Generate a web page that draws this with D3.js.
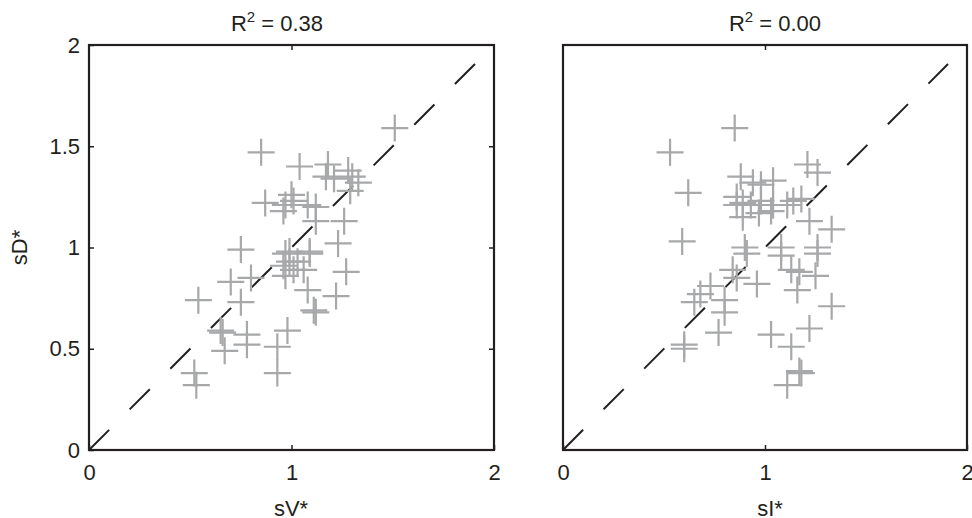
<!DOCTYPE html>
<html>
<head>
<meta charset="utf-8">
<script src="https://cdn.jsdelivr.net/npm/d3@7"></script>
<style>
  body { margin: 0; background: #fff; }
  text { font-family: "Liberation Sans", Arial, sans-serif; fill: #231f20; }
</style>
</head>
<body>
<div id="chart"></div>
<script>
// left panel: sD* against sV*
var sV = [1.51, 0.85, 1.04, 1.18, 1.17, 1.21, 1.28, 1.33, 1.30, 1.29, 0.87, 1.00, 0.97, 0.96, 1.01,
  1.12, 1.08, 1.26, 1.12, 1.23, 0.75, 0.99, 1.09, 0.97, 1.09, 0.99, 1.01, 0.97, 1.06, 1.27,
  0.80, 0.70, 1.08, 1.22, 0.54, 0.75, 1.11, 1.12, 0.65, 0.66, 0.78, 0.98, 0.67, 0.78, 0.93,
  0.52, 0.53, 0.93, 0.96, 1.03];
var sD_V = [1.59, 1.47, 1.40, 1.41, 1.35, 1.34, 1.38, 1.32, 1.35, 1.28, 1.22, 1.26, 1.21, 1.18, 1.23,
  1.20, 1.21, 1.13, 1.13, 1.02, 0.99, 0.98, 0.98, 0.97, 0.97, 0.93, 0.89, 0.86, 0.89, 0.88,
  0.85, 0.83, 0.79, 0.76, 0.74, 0.73, 0.69, 0.68, 0.59, 0.58, 0.57, 0.59, 0.49, 0.52, 0.51,
  0.38, 0.32, 0.38, 0.91, 0.93];

// right panel: sD* against sI*
var sI = [0.85, 0.53, 0.62, 1.21, 1.26, 0.88, 0.94, 0.98, 1.04, 0.86, 0.89, 0.86, 0.93, 0.98, 1.04,
  1.11, 1.14, 1.18, 0.89, 0.97, 1.03, 1.22, 1.33, 0.59, 0.90, 1.08, 1.26, 0.91, 1.08, 1.26,
  0.84, 0.86, 0.96, 1.13, 1.17, 1.25, 1.16, 1.33, 0.73, 0.68, 0.65, 0.80, 0.80, 0.77, 0.60,
  0.60, 1.03, 1.22, 1.13, 1.18, 1.11, 1.17];
var sD_I = [1.59, 1.47, 1.27, 1.41, 1.37, 1.35, 1.32, 1.31, 1.33, 1.25, 1.22, 1.21, 1.21, 1.23, 1.21,
  1.21, 1.23, 1.24, 1.15, 1.17, 1.18, 1.13, 1.09, 1.03, 1.00, 1.00, 1.00, 0.97, 0.96, 0.97,
  0.89, 0.85, 0.82, 0.89, 0.88, 0.86, 0.79, 0.71, 0.81, 0.77, 0.73, 0.74, 0.68, 0.58, 0.52,
  0.50, 0.57, 0.60, 0.51, 0.38, 0.32, 0.39];

var panels = [
  { x: sV, y: sD_V, title: "0.38", xLabel: "sV*", showY: true, left: 89, right: 494, titleX: 277, xLabelX: 291 },
  { x: sI, y: sD_I, title: "0.00", xLabel: "sI*", showY: false, left: 563, right: 967, titleX: 775, xLabelX: 770 }
];
var xTicks = [0, 1, 2];
var yTicks = [0, 0.5, 1, 1.5, 2];
var lineEnd = 1.906; // where the dashed identity line stops

var W = 972, H = 518, plotTop = 45, plotBottom = 450;

var svg = d3.select("#chart")
  .append("svg")
  .attr("width", W)
  .attr("height", H);

var y = d3.scaleLinear().domain([0, 2]).range([plotBottom, plotTop]);

function styleTicks(a) {
  a.select(".domain").remove();
  a.selectAll("line").attr("stroke", "#231f20").attr("stroke-width", 1.5);
  a.selectAll("text").style("font-size", "22px").attr("fill", "#231f20");
}

panels.forEach(function (p) {
  var x = d3.scaleLinear().domain([0, 2]).range([p.left, p.right]);
  var g = svg.append("g");

  // dashed identity line
  g.append("line")
    .attr("x1", x(0)).attr("y1", y(0))
    .attr("x2", x(lineEnd)).attr("y2", y(lineEnd))
    .attr("stroke", "#231f20")
    .attr("stroke-width", 2)
    .attr("stroke-dasharray", "28.5,29");

  // plus markers
  var s = 13.5;
  var pts = p.x.map(function (v, i) { return { x: v, y: p.y[i] }; });
  g.selectAll(".pt").data(pts).enter().append("path")
    .attr("class", "pt")
    .attr("fill", "none")
    .attr("stroke", "#a7a8aa")
    .attr("stroke-width", 2.2)
    .attr("d", function (d) {
      var cx = x(d.x), cy = y(d.y);
      return "M" + (cx - s) + "," + cy + "H" + (cx + s) + "M" + cx + "," + (cy - s) + "V" + (cy + s);
    });

  // bottom axis
  g.append("g")
    .attr("transform", "translate(0," + plotBottom + ")")
    .call(d3.axisBottom(x).tickValues(xTicks).tickFormat(d3.format("d")).tickSizeInner(-5).tickSizeOuter(0).tickPadding(14))
    .call(styleTicks);

  // top ticks
  g.append("g")
    .attr("transform", "translate(0," + plotTop + ")")
    .call(d3.axisTop(x).tickValues([1]).tickFormat("").tickSizeInner(-5).tickSizeOuter(0))
    .call(styleTicks);

  if (p.showY) {
    g.append("g")
      .attr("transform", "translate(" + p.left + ",0)")
      .call(d3.axisLeft(y).tickValues(yTicks).tickFormat(d3.format("")).tickSizeInner(-5).tickSizeOuter(0).tickPadding(9))
      .call(styleTicks);

    g.append("g")
      .attr("transform", "translate(" + p.right + ",0)")
      .call(d3.axisRight(y).tickValues([0.5, 1, 1.5]).tickFormat("").tickSizeInner(-5).tickSizeOuter(0))
      .call(styleTicks);

    svg.append("text")
      .attr("transform", "translate(27," + ((plotTop + plotBottom) / 2) + ") rotate(-90)")
      .attr("text-anchor", "middle")
      .style("font-size", "22px")
      .text("sD*");
  }

  // frame
  g.append("rect")
    .attr("x", p.left).attr("y", plotTop)
    .attr("width", p.right - p.left).attr("height", plotBottom - plotTop)
    .attr("fill", "none")
    .attr("stroke", "#231f20")
    .attr("stroke-width", 2.2);

  // title
  var t = svg.append("text")
    .attr("x", p.titleX).attr("y", 31)
    .attr("text-anchor", "middle")
    .style("font-size", "22px");
  t.append("tspan").text("R");
  t.append("tspan").attr("dy", -9).style("font-size", "15px").text("2");
  t.append("tspan").attr("dy", 9).text(" = " + p.title);

  // x label
  svg.append("text")
    .attr("x", p.xLabelX).attr("y", 516)
    .attr("text-anchor", "middle")
    .style("font-size", "22px")
    .text(p.xLabel);
});
</script>
</body>
</html>
